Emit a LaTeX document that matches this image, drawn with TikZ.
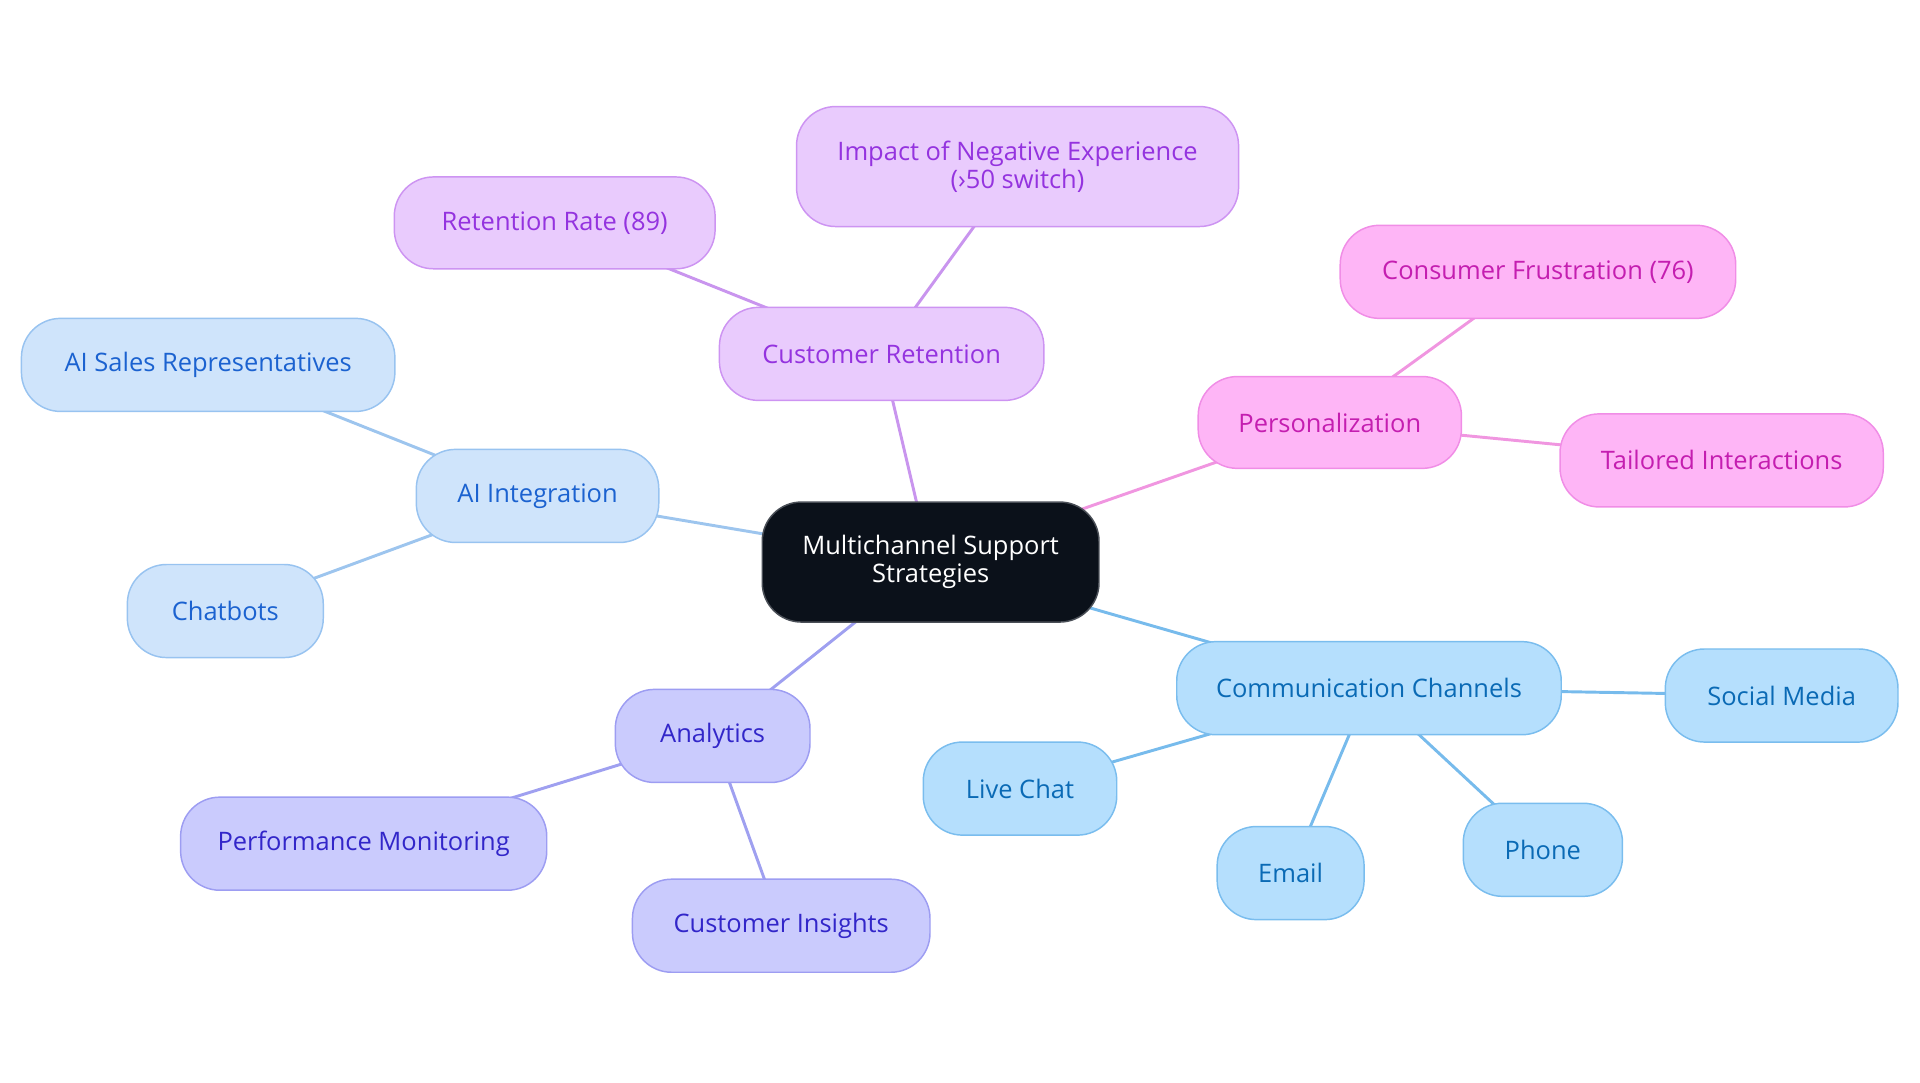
\documentclass[tikz,border=0pt]{standalone}
\usepackage{fontspec}
\setmainfont{Open Sans}
\usetikzlibrary{backgrounds}
\definecolor{cfill}{HTML}{0B111A}
\definecolor{cbord}{HTML}{4A4F57}
\definecolor{pufill}{HTML}{E9CBFD}
\definecolor{pubord}{HTML}{CD94F2}
\definecolor{putext}{HTML}{9433DF}
\definecolor{puline}{HTML}{C995EE}
\definecolor{pifill}{HTML}{FEB5F6}
\definecolor{pibord}{HTML}{F08DE6}
\definecolor{pitext}{HTML}{C41EB0}
\definecolor{piline}{HTML}{F096E0}
\definecolor{aifill}{HTML}{CFE4FB}
\definecolor{aibord}{HTML}{98C3F0}
\definecolor{aitext}{HTML}{1B62D0}
\definecolor{ailine}{HTML}{9DC5EE}
\definecolor{lafill}{HTML}{CACBFD}
\definecolor{labord}{HTML}{9D9DF2}
\definecolor{latext}{HTML}{3226C9}
\definecolor{laline}{HTML}{9FA0F0}
\definecolor{skfill}{HTML}{B5DFFD}
\definecolor{skbord}{HTML}{7ABDEE}
\definecolor{sktext}{HTML}{0A6AB5}
\definecolor{skline}{HTML}{77BBEC}
\tikzset{
  box/.style={rectangle, rounded corners=16pt, line width=0.6pt, inner sep=0pt,
    align=center, font=\fontsize{10.4}{11.5}\selectfont, minimum height=38pt},
  central/.style={box, fill=cfill, draw=cbord, text=white, minimum height=49pt},
  pubox/.style={box, fill=pufill, draw=pubord, text=putext},
  pibox/.style={box, fill=pifill, draw=pibord, text=pitext},
  aibox/.style={box, fill=aifill, draw=aibord, text=aitext},
  labox/.style={box, fill=lafill, draw=labord, text=latext},
  skbox/.style={box, fill=skfill, draw=skbord, text=sktext},
  edge/.style={line width=1.2pt}
}
\begin{document}
\begin{tikzpicture}[x=0.5pt, y=-0.5pt]
\useasboundingbox (0,0) rectangle (1568,884.4);
\node[central, minimum width=137.5pt] (c) at (760,459) {Multichannel Support\\Strategies};
% purple
\node[pubox, minimum width=132.5pt] (cr) at (720,289) {Customer Retention};
\node[pubox, minimum width=131pt, minimum height=37.5pt] (rr) at (453,182) {Retention Rate (89)};
\node[pubox, minimum width=180.5pt, minimum height=49pt] (im) at (831,136) {Impact of Negative Experience\\(›50 switch)};
% pink
\node[pibox, minimum width=107.5pt, minimum height=37.5pt] (pe) at (1086,345) {Personalization};
\node[pibox, minimum width=161.5pt] (cf) at (1256,222) {Consumer Frustration (76)};
\node[pibox, minimum width=132pt] (ti) at (1406,376) {Tailored Interactions};
% light blue
\node[aibox, minimum width=99pt] (ai) at (439,405) {AI Integration};
\node[aibox, minimum width=152.5pt] (as) at (170,298) {AI Sales Representatives};
\node[aibox, minimum width=80pt] (cb) at (184,499) {Chatbots};
% lavender
\node[labox, minimum width=79.5pt] (an) at (582,601) {Analytics};
\node[labox, minimum width=149.5pt] (pm) at (297,689) {Performance Monitoring};
\node[labox, minimum width=121.5pt] (ci) at (638,756) {Customer Insights};
% sky
\node[skbox, minimum width=157pt] (cc) at (1118,562) {Communication Channels};
\node[skbox, minimum width=95pt] (sm) at (1455,568) {Social Media};
\node[skbox, minimum width=79pt] (lc) at (833,644) {Live Chat};
\node[skbox, minimum width=60pt] (em) at (1054,713) {Email};
\node[skbox, minimum width=65pt] (ph) at (1260,694) {Phone};
\begin{pgfonlayer}{background}
\draw[edge, puline] (c.center) -- (cr.center);
\draw[edge, puline] (cr.center) -- (rr.center);
\draw[edge, puline] (cr.center) -- (im.center);
\draw[edge, piline] (c.center) -- (pe.center);
\draw[edge, piline] (pe.center) -- (cf.center);
\draw[edge, piline] (pe.center) -- (ti.center);
\draw[edge, ailine] (c.center) -- (ai.center);
\draw[edge, ailine] (ai.center) -- (as.center);
\draw[edge, ailine] (ai.center) -- (cb.center);
\draw[edge, laline] (c.center) -- (an.center);
\draw[edge, laline] (an.center) -- (pm.center);
\draw[edge, laline] (an.center) -- (ci.center);
\draw[edge, skline] (c.center) -- (cc.center);
\draw[edge, skline] (cc.center) -- (sm.center);
\draw[edge, skline] (cc.center) -- (lc.center);
\draw[edge, skline] (cc.center) -- (em.center);
\draw[edge, skline] (cc.center) -- (ph.center);
\end{pgfonlayer}
\end{tikzpicture}
\end{document}
